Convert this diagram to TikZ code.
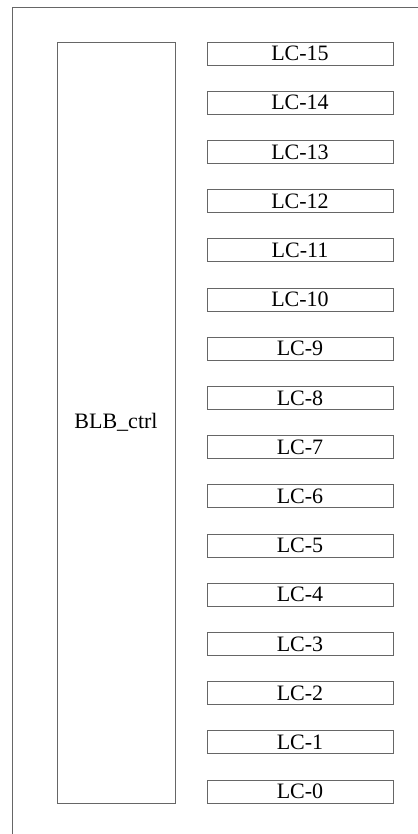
\documentclass[tikz,border=0pt]{standalone}
\usepackage{fontspec}
\setmainfont{Liberation Serif}

\begin{document}
\begin{tikzpicture}[x=1pt, y=-1pt,
        frame/.style={draw=black!60, line width=0.8pt},
        lcbox/.style={frame, rectangle, minimum width=186pt, minimum height=23pt, inner sep=0pt, font=\fontsize{22}{22}\selectfont},
        ctrlbox/.style={frame, rectangle, minimum width=118pt, minimum height=761pt, inner sep=0pt, font=\fontsize{22}{22}\selectfont}]
        \useasboundingbox (0,0) rectangle (417,834);

        %outer frame
        \draw[frame] (12,7) rectangle (440,860);

        %controller
        \node[ctrlbox] (ctrl) at (116, 422.5) {BLB\_ctrl};

        %line controllers
        \node[lcbox] (lc15) at (300, 53.5) {LC-15};
        \node[lcbox] (lc14) at (300, 102.7) {LC-14};
        \node[lcbox] (lc13) at (300, 151.9) {LC-13};
        \node[lcbox] (lc12) at (300, 201.1) {LC-12};
        \node[lcbox] (lc11) at (300, 250.3) {LC-11};
        \node[lcbox] (lc10) at (300, 299.5) {LC-10};
        \node[lcbox] (lc9) at (300, 348.7) {LC-9};
        \node[lcbox] (lc8) at (300, 397.9) {LC-8};
        \node[lcbox] (lc7) at (300, 447.1) {LC-7};
        \node[lcbox] (lc6) at (300, 496.3) {LC-6};
        \node[lcbox] (lc5) at (300, 545.5) {LC-5};
        \node[lcbox] (lc4) at (300, 594.7) {LC-4};
        \node[lcbox] (lc3) at (300, 643.9) {LC-3};
        \node[lcbox] (lc2) at (300, 693.1) {LC-2};
        \node[lcbox] (lc1) at (300, 742.3) {LC-1};
        \node[lcbox] (lc0) at (300, 791.5) {LC-0};
    \end{tikzpicture}
\end{document}
